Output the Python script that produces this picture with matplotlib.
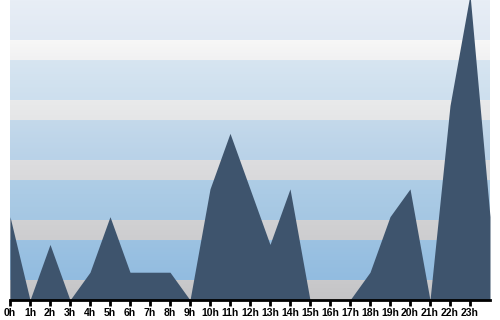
import numpy as np
import matplotlib
matplotlib.use("Agg")
import matplotlib.pyplot as plt
from matplotlib.colors import to_rgb

# ---- data ----
hours = list(range(25))                      # 0..24 (24 wraps to 0h)
tick_labels = [f"{h}h" for h in range(24)]
values = [3, 0, 2, 0, 1, 3, 1, 1, 1, 0, 4, 6, 4, 2, 4, 0, 0, 0, 1, 3, 4, 0, 7, 11, 3]

# ---- style ----
AREA_COLOR = "#3e546d"
bands = [  # (top_px, bottom_px, top colour, bottom colour) of the 300 px plot height
    (0, 40, "#e8eef6", "#e0e9f3"),
    (40, 60, "#f7f7f7", "#f1f1f2"),
    (60, 100, "#d7e5f1", "#cddfee"),
    (100, 120, "#e9eaeb", "#e5e6e7"),
    (120, 160, "#c4d9eb", "#b9d2e8"),
    (160, 180, "#dddddf", "#d9d9db"),
    (180, 220, "#aecde6", "#a5c7e3"),
    (220, 240, "#d1d1d3", "#cdcdcf"),
    (240, 280, "#9cc2e2", "#92bce0"),
    (280, 300, "#c9c9cb", "#c4c4c6"),
]

fig = plt.figure(figsize=(5, 3.2), dpi=100)
ax = fig.add_axes([10 / 500, 20 / 320, 480 / 500, 300 / 320])

bg = np.zeros((300, 1, 3))
for top, bot, c1, c2 in bands:
    a, b = np.array(to_rgb(c1)), np.array(to_rgb(c2))
    n = bot - top
    for i in range(n):
        t = i / max(n - 1, 1)
        bg[top + i, 0] = a + (b - a) * t
ax.imshow(bg, extent=(0, 1, 0, 1), transform=ax.transAxes, aspect="auto",
          interpolation="nearest", zorder=0)

ax.fill_between(hours, values, 0, color=AREA_COLOR, linewidth=0, zorder=2)

ax.set_xlim(0, 24)
ax.set_ylim(0, 10.8)
ax.set_xticks(range(24))
ax.set_xticklabels(tick_labels, fontsize=7.5, fontweight="bold",
                   family=["Liberation Sans Narrow", "Liberation Sans", "DejaVu Sans"])
ax.set_yticks([])
for s in ["top", "left", "right"]:
    ax.spines[s].set_visible(False)
ax.spines["bottom"].set_linewidth(2)
ax.spines["bottom"].set_color("black")
ax.spines["bottom"].set_zorder(3)
ax.tick_params(axis="x", direction="out", length=4, width=2, color="black", pad=2)

fig.savefig("out.png", dpi=100)
